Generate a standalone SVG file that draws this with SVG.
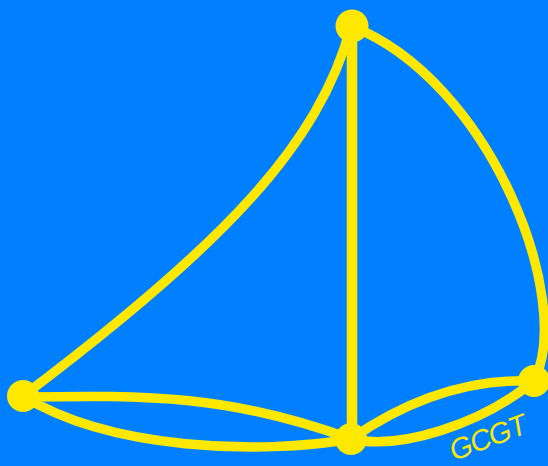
<svg xmlns="http://www.w3.org/2000/svg" width="548" height="466" viewBox="0 0 548 466">
<style>
.e{fill:none;stroke:#FFE800;stroke-width:9.5;stroke-linecap:round}
.n{fill:#FFE800}
.t{font-family:"Liberation Sans",Arial,sans-serif;font-style:italic;font-size:29px;letter-spacing:-1px;fill:#FFE800}
</style>
<rect width="548" height="466" fill="#0080FF"/>
<g id="edges">
<path class="e" d="M351,26 C319.5,145 222.5,245.5 23,396"/>
<path class="e" style="stroke-width:10.5" d="M352,26 L352,439"/>
<path class="e" d="M351,26 C490,80 575,300 534,381"/>
<path class="e" d="M23,397 C150,395 230,395 351,439"/>
<path class="e" d="M23,396 C110,450 260,455 351,439"/>
<path class="e" d="M351,439 C400,405 460,378 534,381"/>
<path class="e" d="M351,439 C400,450 480,425 534,381"/>
</g>
<g id="node-top"><circle class="n" cx="352" cy="26" r="16.5"/></g>
<g id="node-left"><circle class="n" cx="23" cy="396" r="16"/></g>
<g id="node-bottom"><circle class="n" cx="351" cy="439" r="16"/></g>
<g id="node-right"><circle class="n" cx="534" cy="381" r="16"/></g>
<text class="t" transform="translate(454,461) rotate(-21)">GCGT</text>
</svg>
